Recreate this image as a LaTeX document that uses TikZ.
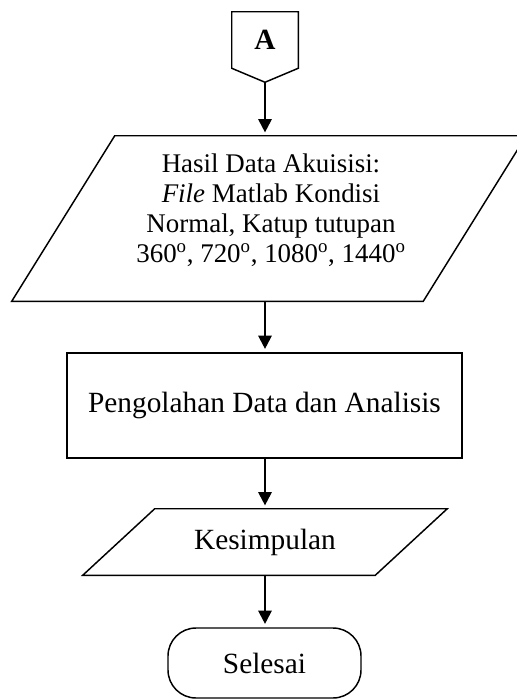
\documentclass[tikz,border=0pt]{standalone}
\usepackage{fontspec}
\setmainfont{Liberation Serif}
\usetikzlibrary{arrows.meta, positioning, calc}
\tikzset{
  garis/.style={draw=black, line width=1.1pt},
  konektor/.style={rectangle, minimum width=49.5pt, minimum height=42pt,
    font=\fontsize{22}{26}\selectfont\bfseries, inner sep=0pt},
  masukan/.style={rectangle, inner sep=0pt, font=\fontsize{22}{26}\selectfont},
  kotak/.style={rectangle, garis, minimum width=296.25pt, minimum height=78.75pt,
    font=\fontsize{22}{26}\selectfont, align=center},
  terminal/.style={rectangle, rounded corners=21pt, garis, minimum width=144.75pt,
    minimum height=52.5pt, font=\fontsize{22}{26}\selectfont},
  isi/.style={font=\fontsize{20.2}{22.5}\selectfont, align=center, inner sep=0pt},
  panah/.style={-{Triangle[length=10pt, width=10pt]}, line width=1.6pt, shorten >=2.5pt}
}
\begin{document}
\begin{tikzpicture}[x=0.75pt, y=0.75pt]
  \useasboundingbox (0,0) rectangle (517,-700);
  % konektor halaman A
  \node[konektor] (A) at (265,-40) {A};
  \coordinate (ujungA) at ($(A.south)+(0,-10.5pt)$);
  \draw[garis] (A.south west) -- (A.north west) -- (A.north east)
    -- (A.south east) -- (ujungA) -- cycle;
  % data masukan (jajar genjang)
  \node[masukan, minimum width=308.25pt, minimum height=123.75pt] (hasil) at (269,-218.5) {};
  \draw[garis] ($(hasil.south west)+(-51.5,0)$) -- ($(hasil.south east)+(-51.5,0)$)
    -- ($(hasil.north east)+(51.5,0)$) -- ($(hasil.north west)+(51.5,0)$) -- cycle;
  \node[isi] (hasilteks) at (271,-210) {Hasil Data Akuisisi:\\
    \textit{File} Matlab Kondisi\\ Normal, Katup tutupan\\
    360\textsuperscript{o}, 720\textsuperscript{o}, 1080\textsuperscript{o}, 1440\textsuperscript{o}};
  \node[kotak] (olah) at (264.5,-405.5) {Pengolahan Data dan Analisis};
  \node[masukan, minimum width=219pt, minimum height=49.5pt] (simpul) at (265,-542) {Kesimpulan};
  \draw[garis] ($(simpul.south west)+(-36,0)$) -- ($(simpul.south east)+(-36,0)$)
    -- ($(simpul.north east)+(36,0)$) -- ($(simpul.north west)+(36,0)$) -- cycle;
  \node[terminal] (selesai) at (264.5,-663) {Selesai};

  \draw[panah] (ujungA) -- (ujungA |- hasil.north);
  \draw[panah] (ujungA |- hasil.south) -- (ujungA |- olah.north);
  \draw[panah] (ujungA |- olah.south) -- (ujungA |- simpul.north);
  \draw[panah] (ujungA |- simpul.south) -- (ujungA |- selesai.north);
\end{tikzpicture}
\end{document}
